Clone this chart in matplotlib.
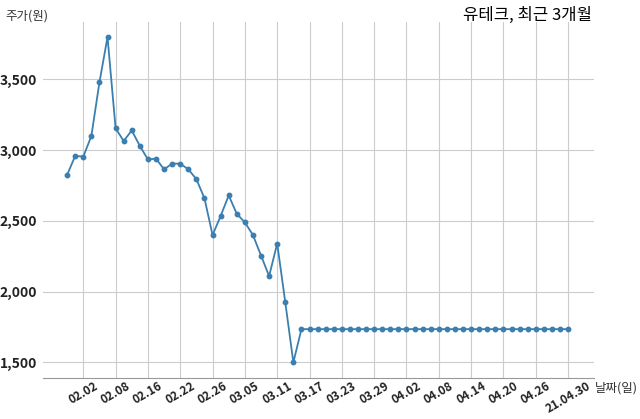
import matplotlib.pyplot as plt
import numpy as np

plt.rcParams['font.family'] = ['Noto Sans CJK KR', 'DejaVu Sans']

TITLE = "유테크, 최근 3개월"

# trading days, 21.01.29 .. 21.04.30
dates = [
    "01.29", "02.01", "02.02", "02.03", "02.04", "02.05", "02.08", "02.09",
    "02.10", "02.15", "02.16", "02.17", "02.18", "02.19", "02.22", "02.23",
    "02.24", "02.25", "02.26", "03.02", "03.03", "03.04", "03.05", "03.08",
    "03.09", "03.10", "03.11", "03.12", "03.15", "03.16", "03.17", "03.18",
    "03.19", "03.22", "03.23", "03.24", "03.25", "03.26", "03.29", "03.30",
    "03.31", "04.01", "04.02", "04.05", "04.06", "04.07", "04.08", "04.09",
    "04.12", "04.13", "04.14", "04.15", "04.16", "04.19", "04.20", "04.21",
    "04.22", "04.23", "04.26", "04.27", "04.28", "04.29", "21.04.30",
]

prices = [
    2825, 2960, 2955, 3100, 3480, 3800, 3155, 3065, 3140, 3030,
    2935, 2940, 2865, 2905, 2905, 2865, 2795, 2660, 2400, 2535,
    2680, 2550, 2490, 2400, 2255, 2110, 2340, 1925, 1500, 1735,
    1735, 1735, 1735, 1735, 1735, 1735, 1735, 1735, 1735, 1735,
    1735, 1735, 1735, 1735, 1735, 1735, 1735, 1735, 1735, 1735,
    1735, 1735, 1735, 1735, 1735, 1735, 1735, 1735, 1735, 1735,
    1735, 1735, 1735,
]

y_ticks = [1500, 2000, 2500, 3000, 3500]

x = np.arange(len(dates))
tick_idx = x[2::4]

fig = plt.figure(figsize=(6.4, 4.19), dpi=100)
ax = fig.add_axes([0.067, 0.098, 0.861, 0.849])

ax.plot(x, prices, color="#3a7fb0", linewidth=1.3, marker="o", markersize=3.2)

ax.set_xlim(-3, 65.2)
ax.set_ylim(1390, 3905)
ax.set_xticks(tick_idx)
ax.set_xticklabels([dates[i] for i in tick_idx], rotation=30, ha="center",
                   fontsize=8.5, fontweight="bold", color="#222222")
ax.set_yticks(y_ticks)
ax.set_yticklabels([f"{v:,}" for v in y_ticks], fontsize=10, fontweight="bold",
                   color="#222222")
ax.tick_params(length=0)
ax.tick_params(axis="x", pad=1)
ax.tick_params(axis="y", pad=4)

ax.grid(True, color="#cccccc", linewidth=0.8)
ax.set_axisbelow(True)
for side in ["left", "right", "top"]:
    ax.spines[side].set_visible(False)
ax.spines["bottom"].set_color("#999999")

fig.text(0.925, 0.962, TITLE, ha="right", va="center", fontsize=12)
fig.text(0.008, 0.962, "주가(원)", ha="left", va="center", fontsize=9, color="#333333")
fig.text(0.93, 0.075, "날짜(일)", ha="left", va="center", fontsize=9, color="#333333")

fig.savefig("out.png", dpi=100)
